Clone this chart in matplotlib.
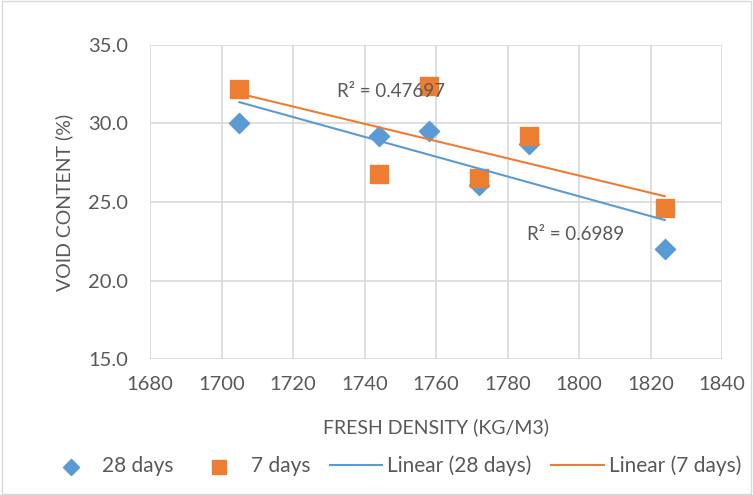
import numpy as np
import matplotlib
matplotlib.use("Agg")
import matplotlib.pyplot as plt
from matplotlib.patches import Rectangle

density_28 = [1705, 1744, 1758, 1772, 1786, 1824]
void_28 = [30.0, 29.2, 29.5, 26.1, 28.7, 22.0]
density_7 = [1705, 1744, 1758, 1772, 1786, 1824]
void_7 = [32.2, 26.8, 32.4, 26.5, 29.2, 24.6]
r2_labels = ["R² = 0.6989", "R² = 0.47697"]
x_ticks = [1680, 1700, 1720, 1740, 1760, 1780, 1800, 1820, 1840]
y_ticks = [15.0, 20.0, 25.0, 30.0, 35.0]

blue = "#5B9BD5"
orange = "#ED7D31"
grey = "#595959"

plt.rcParams["font.family"] = ["Lato", "DejaVu Sans"]

fig = plt.figure(figsize=(7.53, 4.95), dpi=100)
ax = fig.add_axes([150 / 753, 1 - 359 / 495, 572 / 753, 314 / 495])

ax.scatter(density_28, void_28, marker="D", s=105, color=blue, zorder=3, label="28 days")
ax.scatter(density_7, void_7, marker="s", s=180, color=orange, zorder=3, label="7 days")

x28 = np.array(density_28)
k, b = np.polyfit(x28, void_28, 1)
xs = np.array([x28.min(), x28.max()])
ax.plot(xs, k * xs + b, color=blue, lw=1.5, zorder=4, label="Linear (28 days)")

x7 = np.array(density_7)
k, b = np.polyfit(x7, void_7, 1)
xs = np.array([x7.min(), x7.max()])
ax.plot(xs, k * xs + b, color=orange, lw=1.5, zorder=4, label="Linear (7 days)")

ax.text(1785.5, 22.9, r2_labels[0], fontsize=13.5, color=grey, va="center", zorder=5)
ax.text(1732.3, 32.07, r2_labels[1], fontsize=13.5, color=grey, va="center", zorder=5)

ax.set_xlim(1680, 1840)
ax.set_ylim(15, 35)
ax.set_xticks(x_ticks)
ax.set_yticks(y_ticks)
ax.set_yticklabels([f"{v:.1f}" for v in y_ticks])
ax.grid(True, color="#D9D9D9", lw=1.2)
ax.set_axisbelow(True)
for s in ax.spines.values():
    s.set_visible(False)
ax.tick_params(length=0, labelsize=14.5, labelcolor=grey)
ax.tick_params(axis="x", pad=12)
ax.tick_params(axis="y", pad=16)

ax.set_xlabel("FRESH DENSITY (KG/M3)", fontsize=14, color=grey)
ax.set_ylabel("VOID CONTENT (%)", fontsize=14, color=grey)
ax.xaxis.set_label_coords(0.5, -0.19)
ax.yaxis.set_label_coords(-0.135, 0.5)

ax.legend(loc="center", bbox_to_anchor=(393 / 753, 1 - 466 / 495),
          bbox_transform=fig.transFigure, ncol=4, frameon=False,
          fontsize=15, labelcolor=grey, handlelength=2.5, columnspacing=0.95,
          handletextpad=0.25, markerscale=0.8)

fig.patches.append(Rectangle((0.002, 0.002), 0.996, 0.996, transform=fig.transFigure,
                             fill=False, edgecolor="#D9D9D9", lw=1))

fig.savefig("out.png", dpi=100)
